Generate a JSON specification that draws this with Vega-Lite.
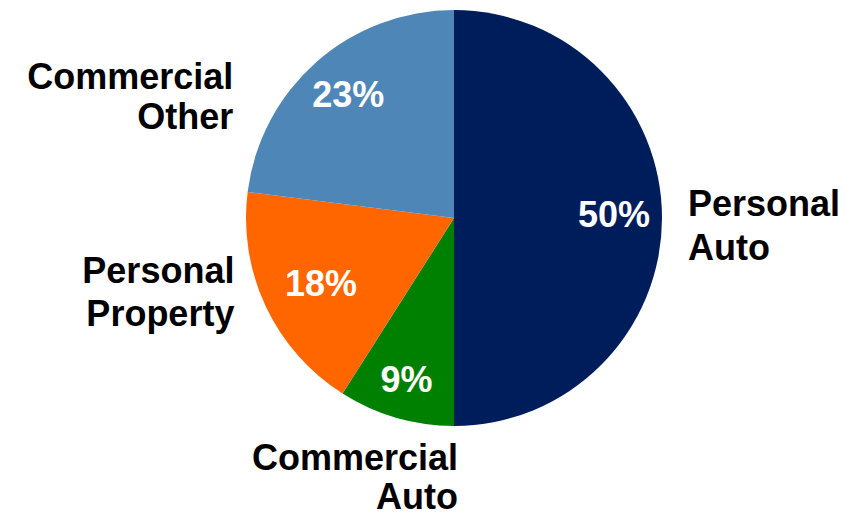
{
  "$schema": "https://vega.github.io/schema/vega-lite/v6.json",
  "autosize": "none",
  "width": 416,
  "height": 416,
  "padding": {"left": 246, "top": 10, "right": 199, "bottom": 89},
  "background": "white",
  "config": {"view": {"stroke": null}},
  "data": {
    "values": [
      {"segment": "Personal Auto", "label": "Personal\nAuto", "share": 0.50, "seq": 1},
      {"segment": "Commercial Auto", "label": "Commercial\nAuto", "share": 0.09, "seq": 2},
      {"segment": "Personal Property", "label": "Personal\nProperty", "share": 0.18, "seq": 3},
      {"segment": "Commercial Other", "label": "Commercial\nOther", "share": 0.23, "seq": 4}
    ]
  },
  "encoding": {
    "theta": {"field": "share", "type": "quantitative", "stack": true},
    "order": {"field": "seq", "type": "quantitative"}
  },
  "layer": [
    {
      "mark": {"type": "arc", "outerRadius": 208, "stroke": null},
      "encoding": {
        "color": {
          "field": "segment",
          "type": "nominal",
          "scale": {
            "domain": ["Personal Auto", "Commercial Auto", "Personal Property", "Commercial Other"],
            "range": ["#001d5b", "#008000", "#ff6600", "#4f86b8"]
          },
          "legend": null
        }
      }
    },
    {
      "mark": {"type": "text", "radius": 160, "dy": -2, "font": "Liberation Sans", "fontWeight": "bold", "fontSize": 36, "fill": "white", "align": "center", "baseline": "middle"},
      "encoding": {"text": {"condition": {"test": "datum.segment === 'Personal Auto' || datum.segment === 'Commercial Other'", "field": "share", "type": "quantitative", "format": ".0%"}, "value": ""}}
    },
    {
      "mark": {"type": "text", "radius": 170, "font": "Liberation Sans", "fontWeight": "bold", "fontSize": 36, "fill": "white", "align": "center", "baseline": "middle"},
      "encoding": {"text": {"condition": {"test": "datum.segment === 'Commercial Auto'", "field": "share", "type": "quantitative", "format": ".0%"}, "value": ""}}
    },
    {
      "mark": {"type": "text", "radius": 147, "dy": 4, "font": "Liberation Sans", "fontWeight": "bold", "fontSize": 36, "fill": "white", "align": "center", "baseline": "middle"},
      "encoding": {"text": {"condition": {"test": "datum.segment === 'Personal Property'", "field": "share", "type": "quantitative", "format": ".0%"}, "value": ""}}
    },
    {
      "mark": {"type": "text", "radius": 234, "dy": -30, "lineBreak": "\n", "lineHeight": 44, "font": "Liberation Sans", "fontWeight": "bold", "fontSize": 36, "fill": "black", "align": "left", "baseline": "top"},
      "encoding": {"text": {"condition": {"test": "datum.segment === 'Personal Auto'", "field": "label"}, "value": ""}}
    },
    {
      "mark": {"type": "text", "radius": 240, "dx": 71, "dy": -6, "lineBreak": "\n", "lineHeight": 39, "font": "Liberation Sans", "fontWeight": "bold", "fontSize": 36, "fill": "black", "align": "right", "baseline": "top"},
      "encoding": {"text": {"condition": {"test": "datum.segment === 'Commercial Auto'", "field": "label"}, "value": ""}}
    },
    {
      "mark": {"type": "text", "radius": 225, "dx": -16, "dy": -59, "lineBreak": "\n", "lineHeight": 43, "font": "Liberation Sans", "fontWeight": "bold", "fontSize": 36, "fill": "black", "align": "right", "baseline": "top"},
      "encoding": {"text": {"condition": {"test": "datum.segment === 'Personal Property'", "field": "label"}, "value": ""}}
    },
    {
      "mark": {"type": "text", "radius": 240, "dx": -62, "dy": 23, "lineBreak": "\n", "lineHeight": 40, "font": "Liberation Sans", "fontWeight": "bold", "fontSize": 36, "fill": "black", "align": "right", "baseline": "top"},
      "encoding": {"text": {"condition": {"test": "datum.segment === 'Commercial Other'", "field": "label"}, "value": ""}}
    }
  ]
}
